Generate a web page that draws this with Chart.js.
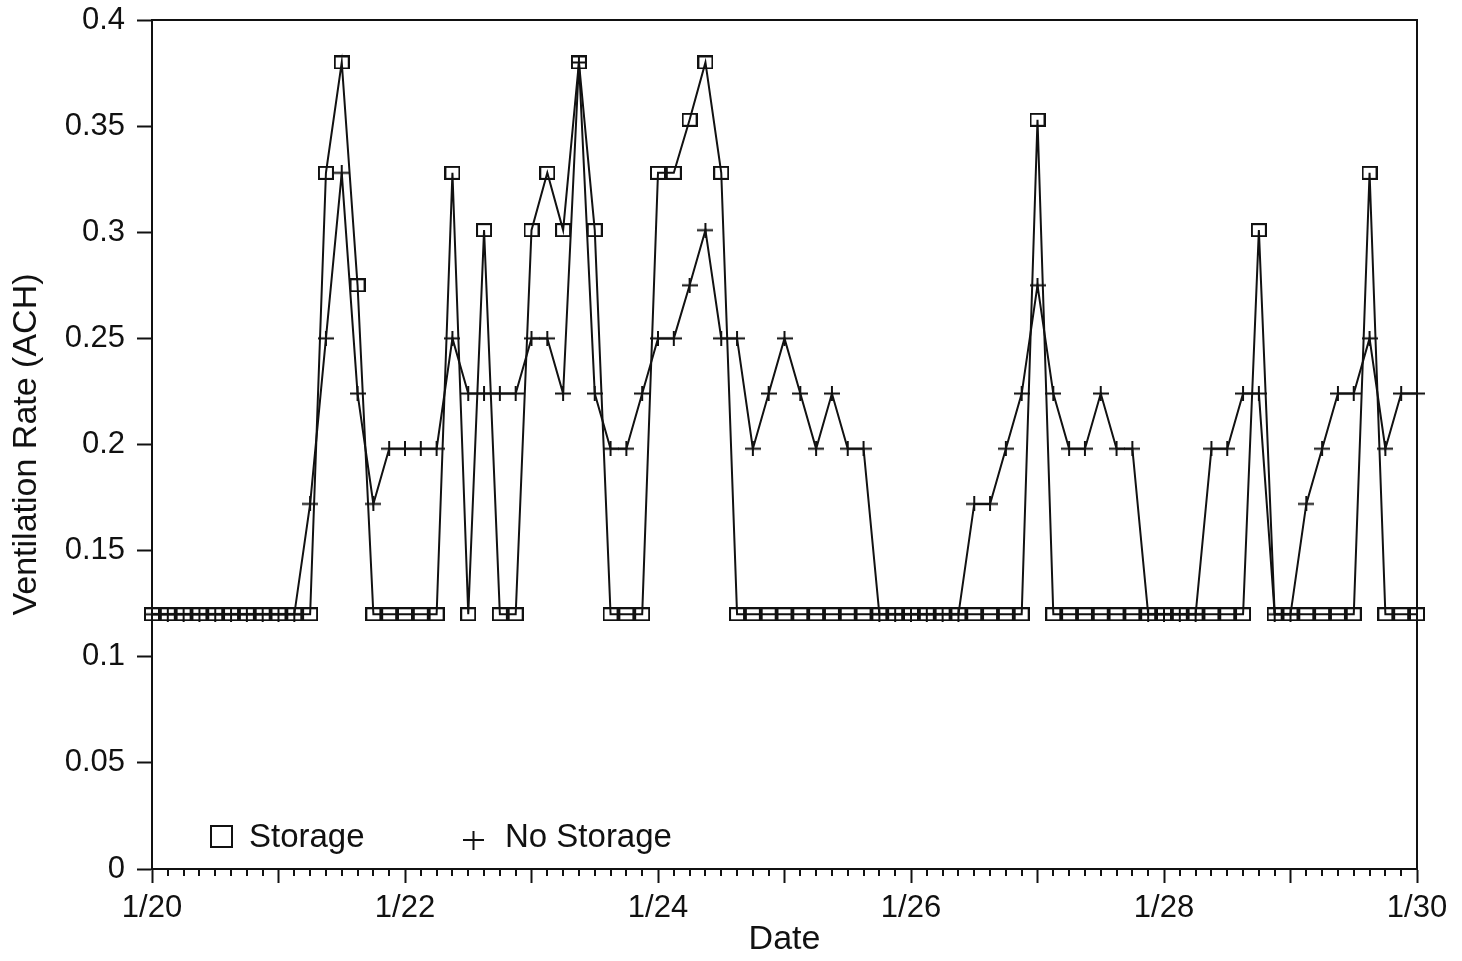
<!DOCTYPE html>
<html>
<head>
<meta charset="utf-8">
<script src="https://cdn.jsdelivr.net/npm/chart.js@4.4.0/dist/chart.umd.min.js"></script>
<style>
html,body{margin:0;padding:0;background:#fff;overflow:hidden}
#wrap{width:1462px;height:961px;position:relative;background:#fff}
</style>
</head>
<body>
<div id="wrap"><canvas id="c" width="1462" height="961"></canvas></div>
<script>
// Sampling times: hours since 1/20 00:00 (every 3 hours)
const hoursSinceStart = [
  0,3,6,9,12,15,18,21, 24,27,30,33,36,39,42,45, 48,51,54,57,60,63,66,69,
  72,75,78,81,84,87,90,93, 96,99,102,105,108,111,114,117, 120,123,126,129,132,135,138,141,
  144,147,150,153,156,159,162,165, 168,171,174,177,180,183,186,189, 192,195,198,201,204,207,210,213,
  216,219,222,225,228,231,234,237, 240
];

// Ventilation rate (ACH), Storage
const storageValues = [
  0.12,0.12,0.12,0.12,0.12,0.12,0.12,0.12,
  0.12,0.12,0.12,0.328,0.38,0.275,0.12,0.12,
  0.12,0.12,0.12,0.328,0.12,0.301,0.12,0.12,
  0.301,0.328,0.301,0.38,0.301,0.12,0.12,0.12,
  0.328,0.328,0.353,0.38,0.328,0.12,0.12,0.12,
  0.12,0.12,0.12,0.12,0.12,0.12,0.12,0.12,
  0.12,0.12,0.12,0.12,0.12,0.12,0.12,0.12,
  0.353,0.12,0.12,0.12,0.12,0.12,0.12,0.12,
  0.12,0.12,0.12,0.12,0.12,0.12,0.301,0.12,
  0.12,0.12,0.12,0.12,0.12,0.328,0.12,0.12,
  0.12
];

// Ventilation rate (ACH), No Storage
const noStorageValues = [
  0.12,0.12,0.12,0.12,0.12,0.12,0.12,0.12,
  0.12,0.12,0.172,0.25,0.328,0.224,0.172,0.198,
  0.198,0.198,0.198,0.25,0.224,0.224,0.224,0.224,
  0.25,0.25,0.224,0.38,0.224,0.198,0.198,0.224,
  0.25,0.25,0.275,0.301,0.25,0.25,0.198,0.224,
  0.25,0.224,0.198,0.224,0.198,0.198,0.12,0.12,
  0.12,0.12,0.12,0.12,0.172,0.172,0.198,0.224,
  0.275,0.224,0.198,0.198,0.224,0.198,0.198,0.12,
  0.12,0.12,0.12,0.198,0.198,0.224,0.224,0.12,
  0.12,0.172,0.198,0.224,0.224,0.25,0.198,0.224,
  0.224
];

const seriesNames = ['Storage', 'No Storage'];
const dayTickLabels = ['1/20','','1/22','','1/24','','1/26','','1/28','','1/30'];
const yTickLabels = ['0','0.05','0.1','0.15','0.2','0.25','0.3','0.35','0.4'];
const xTitle = 'Date';
const yTitle = 'Ventilation Rate (ACH)';

const INK = '#111';
const FONT = '"Liberation Sans", Arial, Helvetica, sans-serif';
Chart.defaults.font.family = FONT;
Chart.defaults.color = INK;

function makeSquareMarker(w, h, lw) {
  const c = document.createElement('canvas');
  c.width = w; c.height = h;
  const g = c.getContext('2d');
  g.strokeStyle = INK; g.lineWidth = lw;
  g.strokeRect(lw/2, lw/2, w - lw, h - lw);
  return c;
}
function makePlusMarker(w, h, lw) {
  const c = document.createElement('canvas');
  c.width = w; c.height = h;
  const g = c.getContext('2d');
  g.strokeStyle = INK; g.lineWidth = lw;
  g.beginPath();
  g.moveTo(0, h/2); g.lineTo(w, h/2);
  g.moveTo(w/2, 0); g.lineTo(w/2, h);
  g.stroke();
  return c;
}
const squareMarker = makeSquareMarker(16, 14, 2);
const plusMarker = makePlusMarker(16, 15, 2);

const toPoints = vals => vals.map((v, i) => ({ x: hoursSinceStart[i], y: v }));

const framePlugin = {
  id: 'frame',
  afterDraw(chart) {
    const ctx = chart.ctx;
    const a = chart.chartArea;
    const xs = chart.scales.x;
    ctx.save();
    ctx.strokeStyle = INK;
    ctx.lineWidth = 2;
    // top and right frame lines
    ctx.beginPath();
    ctx.moveTo(a.left, a.top);
    ctx.lineTo(a.right, a.top);
    ctx.lineTo(a.right, a.bottom);
    ctx.stroke();
    // minor (3-hour) tick marks
    ctx.beginPath();
    xs.ticks.forEach(t => {
      if (t.value % 24 !== 0) {
        const px = Math.round(xs.getPixelForValue(t.value));
        ctx.moveTo(px, a.bottom);
        ctx.lineTo(px, a.bottom + 7);
      }
    });
    ctx.stroke();
    // legend
    const ds = chart.data.datasets;
    ctx.font = '33px ' + FONT;
    ctx.fillStyle = INK;
    ctx.textBaseline = 'alphabetic';
    ctx.textAlign = 'left';
    ctx.strokeRect(211, 826, 21, 21);
    ctx.fillText(ds[0].label, 249, 847);
    ctx.beginPath();
    ctx.moveTo(463, 840); ctx.lineTo(484, 840);
    ctx.moveTo(473.5, 831); ctx.lineTo(473.5, 850);
    ctx.stroke();
    ctx.fillText(ds[1].label, 505, 847);
    ctx.restore();
  }
};

new Chart(document.getElementById('c'), {
  type: 'line',
  data: {
    datasets: [
      {
        label: seriesNames[0],
        data: toPoints(storageValues),
        borderColor: INK,
        borderWidth: 2,
        pointStyle: squareMarker,
        pointRadius: 7,
        fill: false,
        tension: 0,
        clip: false
      },
      {
        label: seriesNames[1],
        data: toPoints(noStorageValues),
        borderColor: INK,
        borderWidth: 2,
        pointStyle: plusMarker,
        pointRadius: 7,
        fill: false,
        tension: 0,
        clip: false
      }
    ]
  },
  options: {
    responsive: false,
    animation: false,
    devicePixelRatio: 1,
    layout: { padding: { top: 20, right: 45, left: 0, bottom: 0 } },
    plugins: {
      legend: { display: false },
      tooltip: { enabled: false }
    },
    scales: {
      x: {
        type: 'linear',
        min: 0,
        max: 240,
        afterFit: s => { s.height = 92; s.paddingLeft = 0; s.paddingRight = 0; },
        border: { display: true, color: INK, width: 2 },
        grid: {
          display: true,
          drawOnChartArea: false,
          drawTicks: true,
          tickLength: 14,
          tickWidth: 2,
          tickColor: c => (c.tick && c.tick.value % 24 === 0) ? INK : 'rgba(0,0,0,0)'
        },
        ticks: {
          stepSize: 3,
          autoSkip: false,
          maxRotation: 0,
          minRotation: 0,
          padding: 7,
          color: INK,
          font: { size: 31 },
          callback: v => (v % 24 === 0) ? dayTickLabels[v / 24] : ''
        },
        title: {
          display: true,
          text: xTitle,
          color: INK,
          font: { size: 34 },
          padding: { top: 0, bottom: 1 }
        }
      },
      y: {
        type: 'linear',
        min: 0,
        max: 0.4,
        afterFit: s => { s.width = 152; s.paddingTop = 0; s.paddingBottom = 0; },
        border: { display: true, color: INK, width: 2 },
        grid: {
          display: true,
          drawOnChartArea: false,
          drawTicks: true,
          tickLength: 15,
          tickWidth: 2,
          tickColor: INK
        },
        ticks: {
          stepSize: 0.05,
          padding: 12,
          color: INK,
          font: { size: 31 },
          callback: (v, i) => yTickLabels[i]
        },
        title: {
          display: true,
          text: yTitle,
          color: INK,
          font: { size: 34 },
          padding: { top: 6, bottom: 0 }
        }
      }
    }
  },
  plugins: [framePlugin]
});
</script>
</body>
</html>
